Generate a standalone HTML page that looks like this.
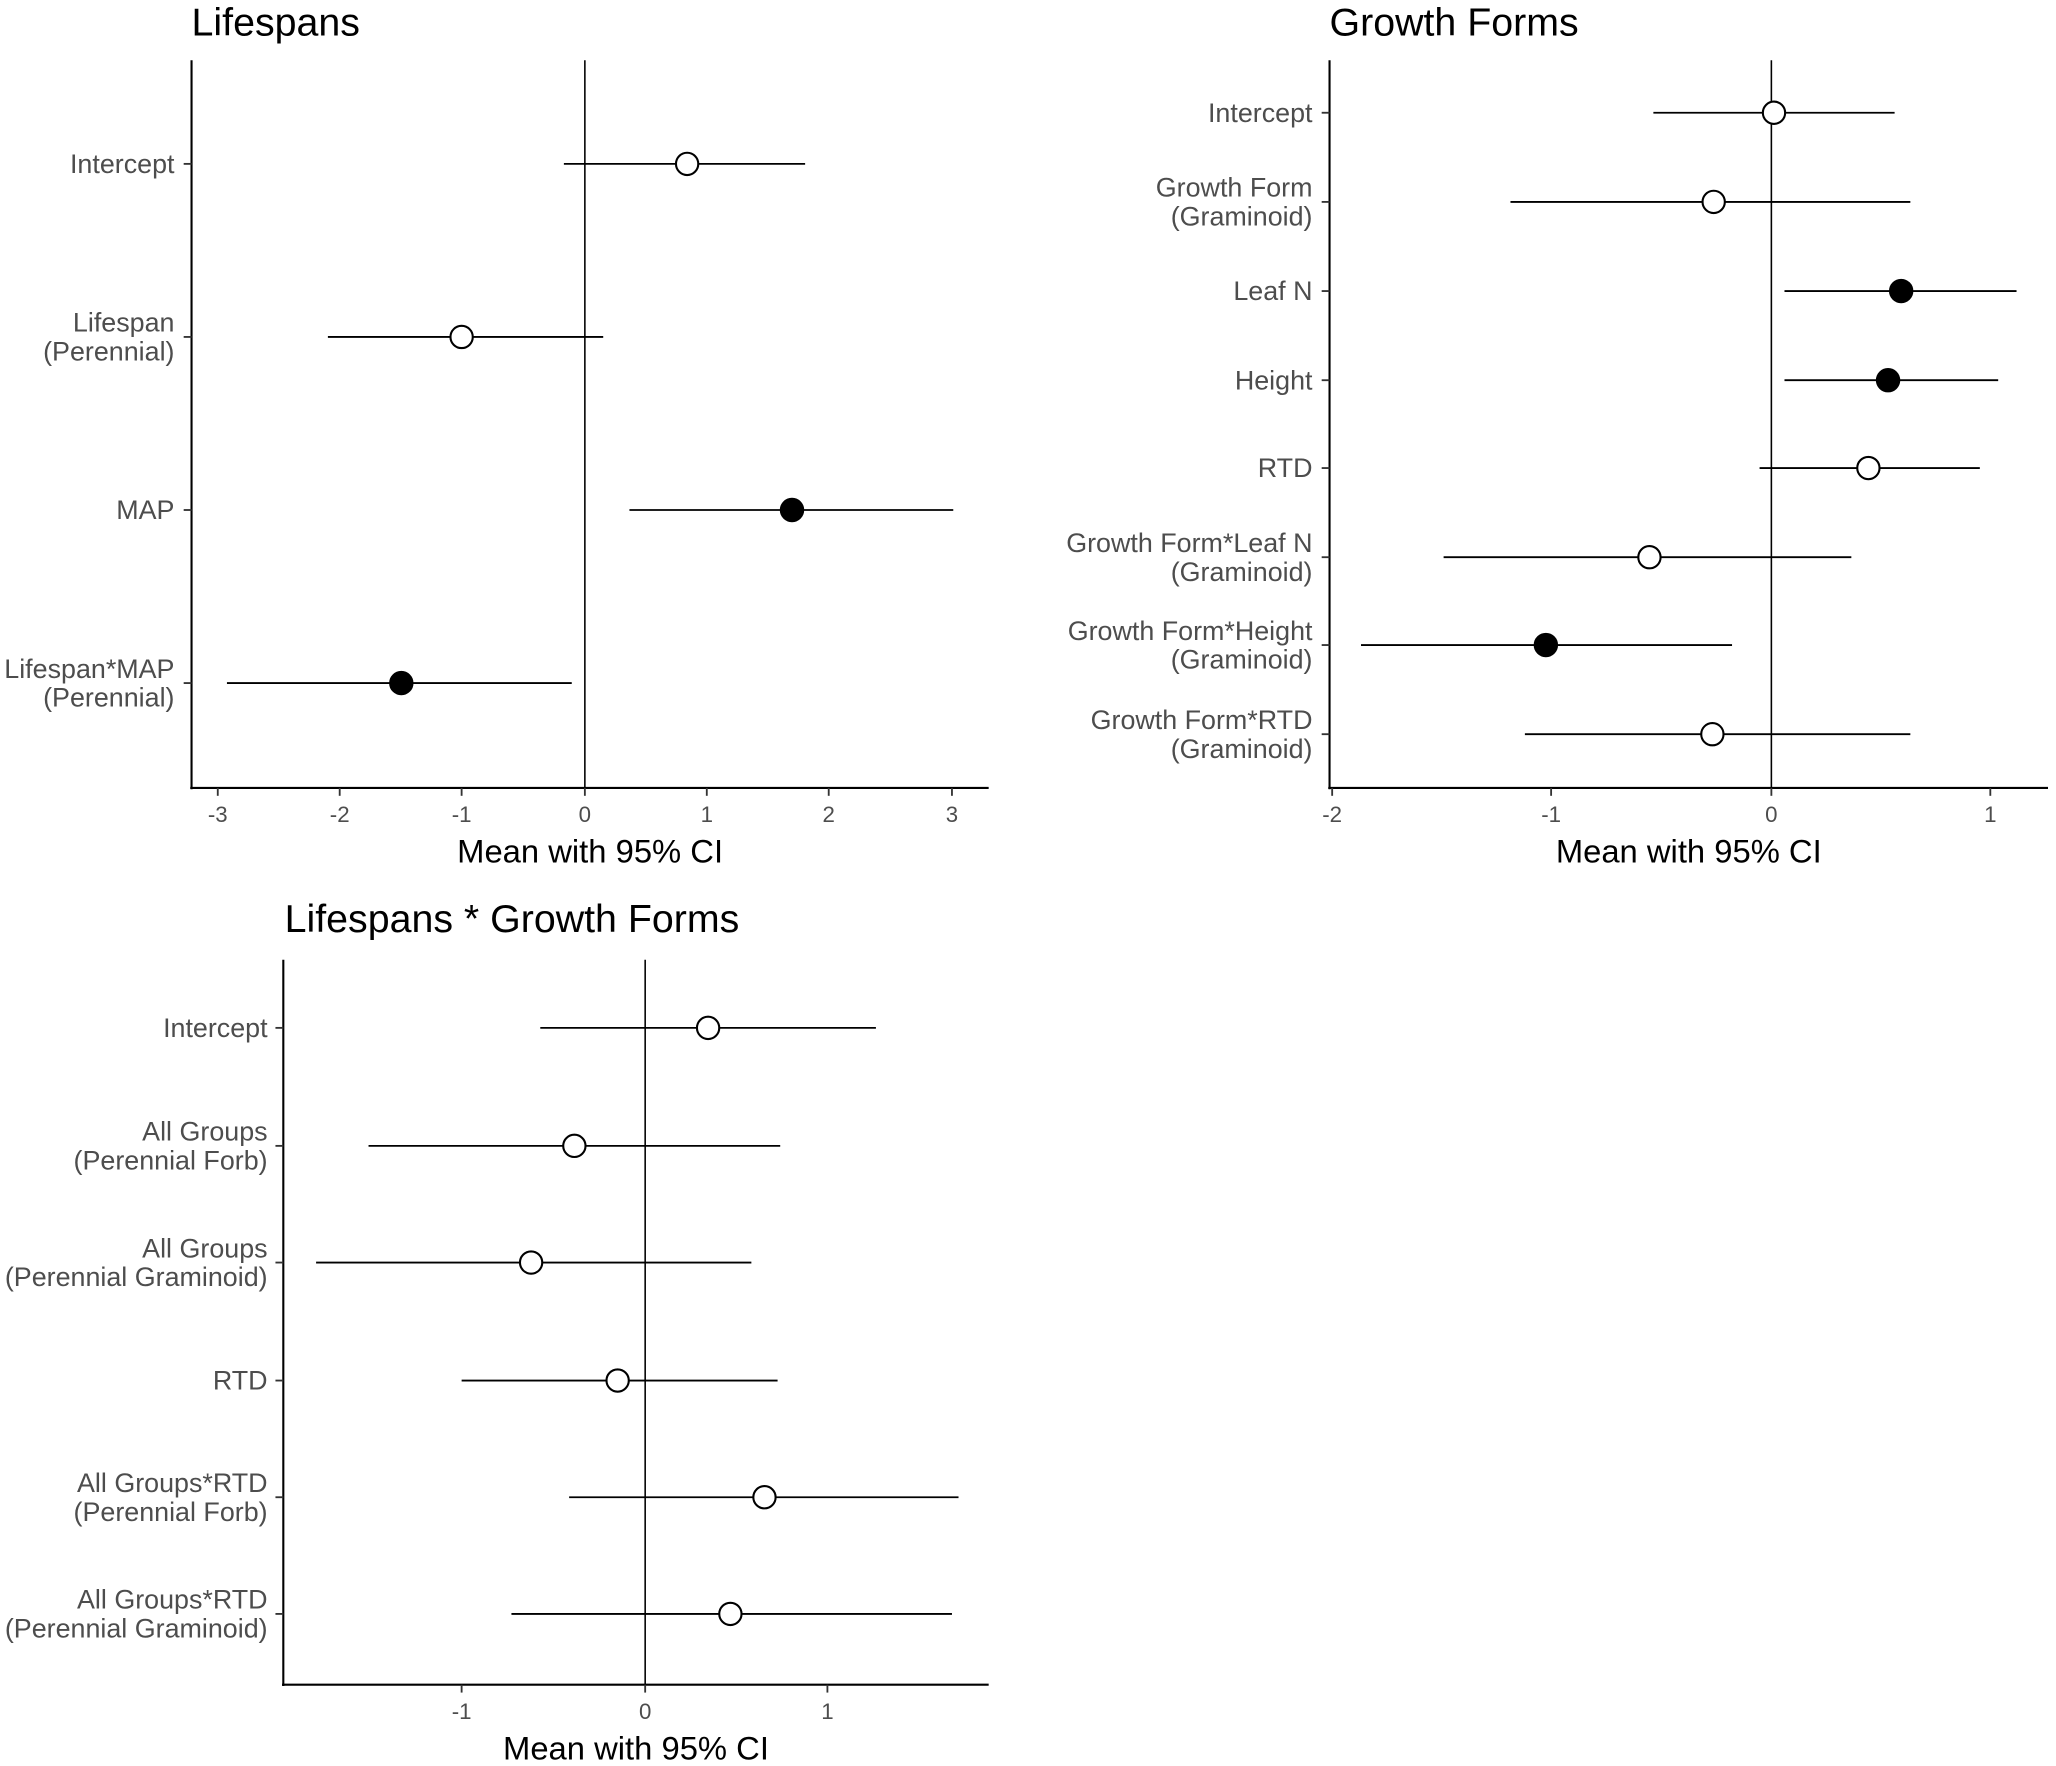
<!DOCTYPE html>
<html><head><meta charset="utf-8"><style>html,body{margin:0;padding:0;background:#fff}svg{display:block}</style></head>
<body>
<svg width="2056" height="1766" viewBox="0 0 1568 1347" xmlns="http://www.w3.org/2000/svg" font-family="Liberation Sans, sans-serif">
<rect width="1568" height="1347" fill="#fff"/>
<g stroke="#000" stroke-width="1.6" fill="none">
<line x1="146" y1="46" x2="146" y2="602"/><line x1="145" y1="601" x2="754" y2="601"/>
<line x1="446" y1="46" x2="446" y2="601" stroke-width="1.2"/>
<line x1="1014" y1="46" x2="1014" y2="602"/><line x1="1013" y1="601" x2="1562" y2="601"/>
<line x1="1351" y1="46" x2="1351" y2="601" stroke-width="1.2"/>
<line x1="216" y1="732" x2="216" y2="1286"/><line x1="215" y1="1285" x2="754" y2="1285"/>
<line x1="492" y1="732" x2="492" y2="1285" stroke-width="1.2"/>
</g>
<g stroke="#333" stroke-width="1.4">
<line x1="166" y1="601" x2="166" y2="607"/><line x1="259" y1="601" x2="259" y2="607"/><line x1="352" y1="601" x2="352" y2="607"/><line x1="446" y1="601" x2="446" y2="607"/><line x1="539" y1="601" x2="539" y2="607"/><line x1="632" y1="601" x2="632" y2="607"/><line x1="726" y1="601" x2="726" y2="607"/>
<line x1="140" y1="125" x2="146" y2="125"/><line x1="140" y1="257" x2="146" y2="257"/><line x1="140" y1="389" x2="146" y2="389"/><line x1="140" y1="521" x2="146" y2="521"/>
<line x1="1016" y1="601" x2="1016" y2="607"/><line x1="1183" y1="601" x2="1183" y2="607"/><line x1="1351" y1="601" x2="1351" y2="607"/><line x1="1518" y1="601" x2="1518" y2="607"/>
<line x1="1008" y1="86" x2="1014" y2="86"/><line x1="1008" y1="154" x2="1014" y2="154"/><line x1="1008" y1="222" x2="1014" y2="222"/><line x1="1008" y1="290" x2="1014" y2="290"/><line x1="1008" y1="357" x2="1014" y2="357"/><line x1="1008" y1="425" x2="1014" y2="425"/><line x1="1008" y1="492" x2="1014" y2="492"/><line x1="1008" y1="560" x2="1014" y2="560"/>
<line x1="352" y1="1285" x2="352" y2="1291"/><line x1="492" y1="1285" x2="492" y2="1291"/><line x1="631" y1="1285" x2="631" y2="1291"/>
<line x1="210" y1="784" x2="216" y2="784"/><line x1="210" y1="874" x2="216" y2="874"/><line x1="210" y1="963" x2="216" y2="963"/><line x1="210" y1="1053" x2="216" y2="1053"/><line x1="210" y1="1142" x2="216" y2="1142"/><line x1="210" y1="1231" x2="216" y2="1231"/>
</g>
<g stroke="#000" stroke-width="1.4">
<line x1="430" y1="125" x2="614" y2="125"/><line x1="250" y1="257" x2="460" y2="257"/><line x1="480" y1="389" x2="727" y2="389"/><line x1="173" y1="521" x2="436" y2="521"/>
<line x1="1261" y1="86" x2="1445" y2="86"/><line x1="1152" y1="154" x2="1457" y2="154"/><line x1="1361" y1="222" x2="1538" y2="222"/><line x1="1361" y1="290" x2="1524" y2="290"/><line x1="1342" y1="357" x2="1510" y2="357"/><line x1="1101" y1="425" x2="1412" y2="425"/><line x1="1038" y1="492" x2="1321" y2="492"/><line x1="1163" y1="560" x2="1457" y2="560"/>
<line x1="412" y1="784" x2="668" y2="784"/><line x1="281" y1="874" x2="595" y2="874"/><line x1="241" y1="963" x2="573" y2="963"/><line x1="352" y1="1053" x2="593" y2="1053"/><line x1="434" y1="1142" x2="731" y2="1142"/><line x1="390" y1="1231" x2="726" y2="1231"/>
</g>
<g stroke="#000" stroke-width="1.6">
<circle cx="524" cy="125" r="8.5" fill="#fff"/><circle cx="352" cy="257" r="8.5" fill="#fff"/><circle cx="604" cy="389" r="8.5" fill="#000"/><circle cx="306" cy="521" r="8.5" fill="#000"/>
<circle cx="1353" cy="86" r="8.5" fill="#fff"/><circle cx="1307" cy="154" r="8.5" fill="#fff"/><circle cx="1450" cy="222" r="8.5" fill="#000"/><circle cx="1440" cy="290" r="8.5" fill="#000"/><circle cx="1425" cy="357" r="8.5" fill="#fff"/><circle cx="1258" cy="425" r="8.5" fill="#fff"/><circle cx="1179" cy="492" r="8.5" fill="#000"/><circle cx="1306" cy="560" r="8.5" fill="#fff"/>
<circle cx="540" cy="784" r="8.5" fill="#fff"/><circle cx="438" cy="874" r="8.5" fill="#fff"/><circle cx="405" cy="963" r="8.5" fill="#fff"/><circle cx="471" cy="1053" r="8.5" fill="#fff"/><circle cx="583" cy="1142" r="8.5" fill="#fff"/><circle cx="557" cy="1231" r="8.5" fill="#fff"/>
</g>
<g font-size="30" fill="#000">
<text x="146" y="27">Lifespans</text><text x="1014" y="27">Growth Forms</text><text x="217" y="711">Lifespans * Growth Forms</text>
</g>
<g font-size="25" fill="#000" text-anchor="middle">
<text x="450" y="658">Mean with 95% CI</text><text x="1288" y="658">Mean with 95% CI</text><text x="485" y="1342">Mean with 95% CI</text>
</g>
<g font-size="17" fill="#4d4d4d" text-anchor="middle">
<text x="166" y="627">-3</text><text x="259" y="627">-2</text><text x="352" y="627">-1</text><text x="446" y="627">0</text><text x="539" y="627">1</text><text x="632" y="627">2</text><text x="726" y="627">3</text>
<text x="1016" y="627">-2</text><text x="1183" y="627">-1</text><text x="1351" y="627">0</text><text x="1518" y="627">1</text>
<text x="352" y="1311">-1</text><text x="492" y="1311">0</text><text x="631" y="1311">1</text>
</g>
<g font-size="20.5" fill="#4d4d4d" text-anchor="end">
<text x="133" y="132">Intercept</text>
<text x="133" y="253">Lifespan</text><text x="133" y="275">(Perennial)</text>
<text x="133" y="396">MAP</text>
<text x="133" y="517">Lifespan*MAP</text><text x="133" y="539">(Perennial)</text>
<text x="1001" y="93">Intercept</text>
<text x="1001" y="150">Growth Form</text><text x="1001" y="172">(Graminoid)</text>
<text x="1001" y="229">Leaf N</text>
<text x="1001" y="297">Height</text>
<text x="1001" y="364">RTD</text>
<text x="1001" y="421">Growth Form*Leaf N</text><text x="1001" y="443">(Graminoid)</text>
<text x="1001" y="488">Growth Form*Height</text><text x="1001" y="510">(Graminoid)</text>
<text x="1001" y="556">Growth Form*RTD</text><text x="1001" y="578">(Graminoid)</text>
<text x="204" y="791">Intercept</text>
<text x="204" y="870">All Groups</text><text x="204" y="892">(Perennial Forb)</text>
<text x="204" y="959">All Groups</text><text x="204" y="981">(Perennial Graminoid)</text>
<text x="204" y="1060">RTD</text>
<text x="204" y="1138">All Groups*RTD</text><text x="204" y="1160">(Perennial Forb)</text>
<text x="204" y="1227">All Groups*RTD</text><text x="204" y="1249">(Perennial Graminoid)</text>
</g>
</svg>
</body></html>
